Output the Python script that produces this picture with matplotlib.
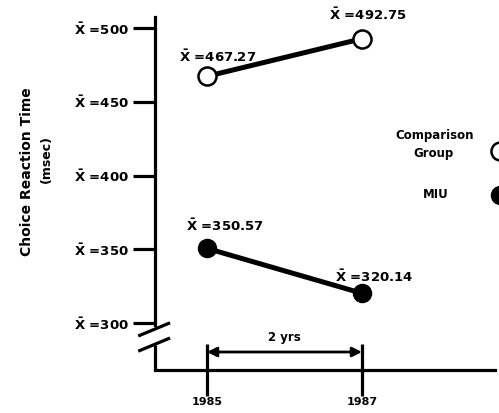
from matplotlib import pyplot as plt

plt.rcParams['font.family'] = ['DejaVu Sans']
plt.rcParams['font.weight'] = 'bold'
plt.rcParams['mathtext.default'] = 'bf'

# data
years = [1985, 1987]
comparison = [467.27, 492.75]
miu = [350.57, 320.14]
ytick_vals = [300, 350, 400, 450, 500]
ytick_labels = [r'$\bar{X}$ =%d' % v for v in ytick_vals]
year_labels = ['1985', '1987']

fig = plt.figure(figsize=(4.99, 4.13), dpi=100)
W, H = 499, 413
# axes box in pixels: left spine x=155, bottom spine y=370, top y=17, right x=495
ax = fig.add_axes([155 / W, (H - 370) / H, (495 - 155) / W, (370 - 17) / H])

px_per_year = 77.5
px_per_unit = 1.475
ax.set_xlim(1985 - 52 / px_per_year, 1987 + 133 / px_per_year)
ax.set_ylim(300 - 47 / px_per_unit, 500 + 11 / px_per_unit)

lw = 2.3
for s in ['top', 'right']:
    ax.spines[s].set_visible(False)
ax.spines['left'].set_linewidth(lw)
ax.spines['bottom'].set_linewidth(lw)
ax.spines['left'].set_bounds(300 - 2 / px_per_unit, 500 + 11 / px_per_unit)

# lower stub of the broken y axis and break marks
ax.plot([0, 0], [0, 0.072], color='black', lw=lw, transform=ax.transAxes,
        clip_on=False, solid_capstyle='butt')
for y0 in [0.098, 0.055]:
    ax.plot([-0.045, 0.04], [y0, y0 + 0.034], color='black', lw=lw,
            transform=ax.transAxes, clip_on=False)

ax.set_yticks(ytick_vals)
ax.set_yticklabels(ytick_labels, fontsize=9.5, fontweight='bold')
ax.tick_params(axis='y', direction='out', length=16, width=lw, pad=3)

ax.set_xticks(years)
ax.set_xticklabels(year_labels, fontsize=8, fontweight='bold')
ax.tick_params(axis='x', direction='inout', length=38, width=lw, pad=0.5)

# series
ax.plot(years, comparison, color='black', lw=3.6, marker='o', markersize=13,
        markerfacecolor='white', markeredgecolor='black', markeredgewidth=1.8,
        zorder=3)
ax.plot(years, miu, color='black', lw=3.6, marker='o', markersize=13,
        markerfacecolor='black', markeredgecolor='black', zorder=3)

# value labels
offsets_c = [(8, 14), (4, 17)]
offsets_m = [(13, 16), (9, 12)]
for x, y, off in zip(years, comparison, offsets_c):
    ax.annotate(r'$\bar{X}$ =%.2f' % y, (x, y), xytext=off,
                textcoords='offset points', ha='center', va='center',
                fontsize=9.5, fontweight='bold')
for x, y, off in zip(years, miu, offsets_m):
    ax.annotate(r'$\bar{X}$ =%.2f' % y, (x, y), xytext=off,
                textcoords='offset points', ha='center', va='center',
                fontsize=9.5, fontweight='bold')

# 2 yrs interval arrow
arrow_y = 300 - 29 / px_per_unit
ax.annotate('', xy=(years[1], arrow_y), xytext=(years[0], arrow_y),
            arrowprops=dict(arrowstyle='<|-|>', color='black', lw=2,
                            mutation_scale=14, shrinkA=0, shrinkB=0),
            annotation_clip=False)
ax.text(sum(years) / 2, arrow_y + 15 / px_per_unit, '2 yrs', ha='center',
        va='center', fontsize=8.5, fontweight='bold')

# y axis title
fig.text(27 / W, 1 - 172 / H, 'Choice Reaction Time', rotation=90,
         ha='center', va='center', fontsize=10, fontweight='bold')
fig.text(46 / W, 1 - 159 / H, '(msec)', rotation=90,
         ha='center', va='center', fontsize=9, fontweight='bold')

# legend (markers cut off at right edge as in the original)
fig.text(435 / W, 1 - 135 / H, 'Comparison', ha='center', va='center',
         fontsize=8.5, fontweight='bold')
fig.text(433 / W, 1 - 153 / H, 'Group', ha='center', va='center',
         fontsize=8.5, fontweight='bold')
fig.text(436 / W, 1 - 194 / H, 'MIU', ha='center', va='center',
         fontsize=8.5, fontweight='bold')
ax.plot([(500 - 155) / 340], [(370 - 151) / 353], marker='o', markersize=13,
        markerfacecolor='white', markeredgecolor='black', markeredgewidth=1.8,
        transform=ax.transAxes, clip_on=False)
ax.plot([(500 - 155) / 340], [(370 - 195) / 353], marker='o', markersize=13,
        markerfacecolor='black', markeredgecolor='black',
        transform=ax.transAxes, clip_on=False)

fig.savefig('out.png', dpi=100)
